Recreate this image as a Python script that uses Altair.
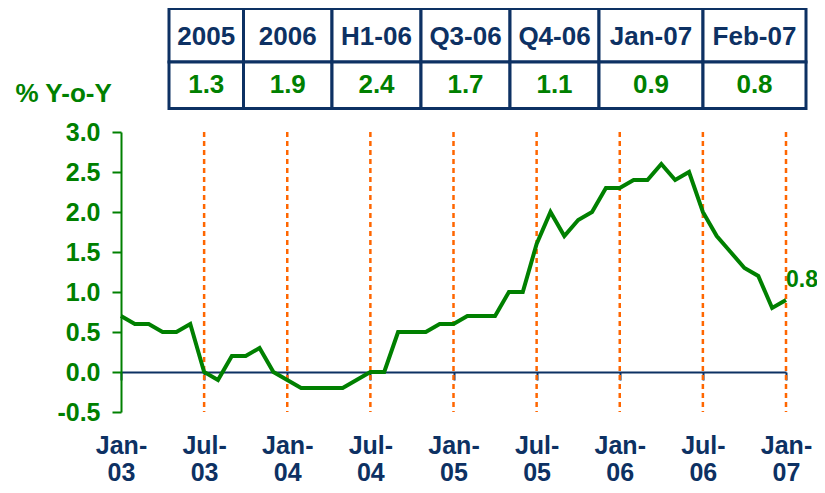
import json
import altair as alt
import pandas as pd

# ---------------- data ----------------
months = pd.date_range("2003-01-01", "2007-01-01", freq="MS").strftime("%b-%y").tolist()
cpi_yoy = [0.7, 0.6, 0.6, 0.5, 0.5, 0.6, 0.0, -0.1, 0.2, 0.2, 0.3, 0.0,
           -0.1, -0.2, -0.2, -0.2, -0.2, -0.1, 0.0, 0.0, 0.5, 0.5, 0.5, 0.6,
           0.6, 0.7, 0.7, 0.7, 1.0, 1.0, 1.6, 2.0, 1.7, 1.9, 2.0, 2.3,
           2.3, 2.4, 2.4, 2.6, 2.4, 2.5, 2.0, 1.7, 1.5, 1.3, 1.2, 0.8,
           0.9]
table_periods = ["2005", "2006", "H1-06", "Q3-06", "Q4-06", "Jan-07", "Feb-07"]
table_values = [1.3, 1.9, 2.4, 1.7, 1.1, 0.9, 0.8]
tick_labels = ["Jan-03", "Jul-03", "Jan-04", "Jul-04", "Jan-05", "Jul-05",
               "Jan-06", "Jul-06", "Jan-07"]
y_ticks = [-0.5, 0.0, 0.5, 1.0, 1.5, 2.0, 2.5, 3.0]
y_title = "% Y-o-Y"

# ---------------- layout / style ----------------
PLOT_W, PLOT_H = 665, 280
PAD = {"left": 113, "top": 124, "right": 31, "bottom": 73}
Y_MIN, Y_MAX = -0.5, 3.0
N = len(months) - 1
ORIGIN_X = 8 + PAD["left"]
ORIGIN_Y = 8 + PAD["top"]
COL_EDGES = [169, 243.5, 332, 421, 510, 599, 703, 806]
ROW_EDGES = [8.5, 62, 108.5]
HEADER_BASE, VALUE_BASE = 45, 93

NAVY = "#0D3163"
GREEN = "#008000"
ORANGE = "#FF6600"
FONT = "Liberation Sans"


def px_to_x(px):
    return (px - ORIGIN_X) / PLOT_W * N


def py_to_y(py):
    return Y_MAX - (py - ORIGIN_Y) / PLOT_H * (Y_MAX - Y_MIN)


x_scale = alt.Scale(domain=[0, N], nice=False, zero=False)
y_scale = alt.Scale(domain=[Y_MIN, Y_MAX], nice=False, zero=False)

step = N // (len(tick_labels) - 1)
tick_pos = [i * step for i in range(len(tick_labels))]
label_arr = json.dumps([t.replace("-", "-|") for t in tick_labels])

df = pd.DataFrame({"m": list(range(len(months))), "month": months, "v": cpi_yoy})
marks_df = pd.DataFrame({"m": tick_pos[1:]})
marks_df["top"] = Y_MAX
marks_df["bot"] = Y_MIN

cells = []
for i, (p, val) in enumerate(zip(table_periods, table_values)):
    x0, x1 = px_to_x(COL_EDGES[i]), px_to_x(COL_EDGES[i + 1])
    xc = px_to_x((COL_EDGES[i] + COL_EDGES[i + 1]) / 2)
    cells.append({"x": x0, "x2": x1, "y": py_to_y(ROW_EDGES[0]), "y2": py_to_y(ROW_EDGES[1]),
                  "xc": xc, "ty": py_to_y(HEADER_BASE), "txt": p, "kind": "head"})
    cells.append({"x": x0, "x2": x1, "y": py_to_y(ROW_EDGES[1]), "y2": py_to_y(ROW_EDGES[2]),
                  "xc": xc, "ty": py_to_y(VALUE_BASE), "txt": f"{val:.1f}", "kind": "val"})
cells_df = pd.DataFrame(cells)

zero_offset = -(0 - Y_MIN) / (Y_MAX - Y_MIN) * PLOT_H

x_axis = alt.Axis(
    values=tick_pos, labelExpr=f"split({label_arr}[round(datum.value/{step})], '|')",
    offset=zero_offset,
    domainColor=NAVY, domainWidth=2, tickColor=NAVY, tickWidth=2, tickSize=8,
    labelColor=NAVY, labelFont=FONT, labelFontSize=25, labelFontWeight="bold",
    labelPadding=53, labelLineHeight=27, labelFlush=False, labelOverlap=False,
    grid=False, title=None,
)
y_axis = alt.Axis(
    values=y_ticks,
    labelExpr="(datum.value < 0 ? '-' : '') + format(abs(datum.value), '.1f')",
    domainColor=GREEN, domainWidth=2, tickColor=GREEN, tickWidth=2, tickSize=9,
    labelColor=GREEN, labelFont=FONT, labelFontSize=25, labelFontWeight="bold",
    labelPadding=12, grid=False,
    title=y_title, titleAngle=0, titleAlign="left", titleBaseline="alphabetic",
    titleX=15 - ORIGIN_X, titleY=101 - ORIGIN_Y,
    titleColor=GREEN, titleFont=FONT, titleFontSize=26, titleFontWeight="bold",
)


def X(field):
    return alt.X(field, scale=x_scale, axis=x_axis)


def Y(field):
    return alt.Y(field, scale=y_scale, axis=y_axis)


rules = alt.Chart(marks_df).mark_rule(color=ORANGE, strokeWidth=2.5, strokeDash=[5, 4]).encode(
    x=X("m:Q"), y=Y("top:Q"), y2="bot:Q",
)

line = alt.Chart(df).mark_line(color=GREEN, strokeWidth=4).encode(
    x=X("m:Q"), y=Y("v:Q"),
)

end_label = alt.Chart(df.tail(1).assign(lbl=f"{table_values[-1]:.1f}")).mark_text(
    align="left", baseline="alphabetic", dx=0, dy=-13, color=GREEN,
    font=FONT, fontSize=23, fontWeight="bold",
).encode(
    x=X("m:Q"), y=Y("v:Q"), text="lbl:N",
)

table_rects = alt.Chart(cells_df).mark_rect(fill="white", stroke=NAVY, strokeWidth=3).encode(
    x=X("x:Q"), x2="x2:Q", y=Y("y:Q"), y2="y2:Q",
)

table_text = alt.Chart(cells_df).mark_text(
    align="center", baseline="alphabetic", font=FONT, fontSize=26, fontWeight="bold",
).encode(
    x=X("xc:Q"), y=Y("ty:Q"), text="txt:N",
    color=alt.Color("kind:N", scale=alt.Scale(domain=["head", "val"], range=[NAVY, GREEN]), legend=None),
)

chart = alt.layer(rules, line, end_label, table_rects, table_text).properties(
    width=PLOT_W, height=PLOT_H,
    autosize=alt.AutoSizeParams(type="none"),
    padding=PAD,
    background="white",
).configure_view(stroke=None)

chart.save("out.html", embed_options={"renderer": "svg", "actions": False})
